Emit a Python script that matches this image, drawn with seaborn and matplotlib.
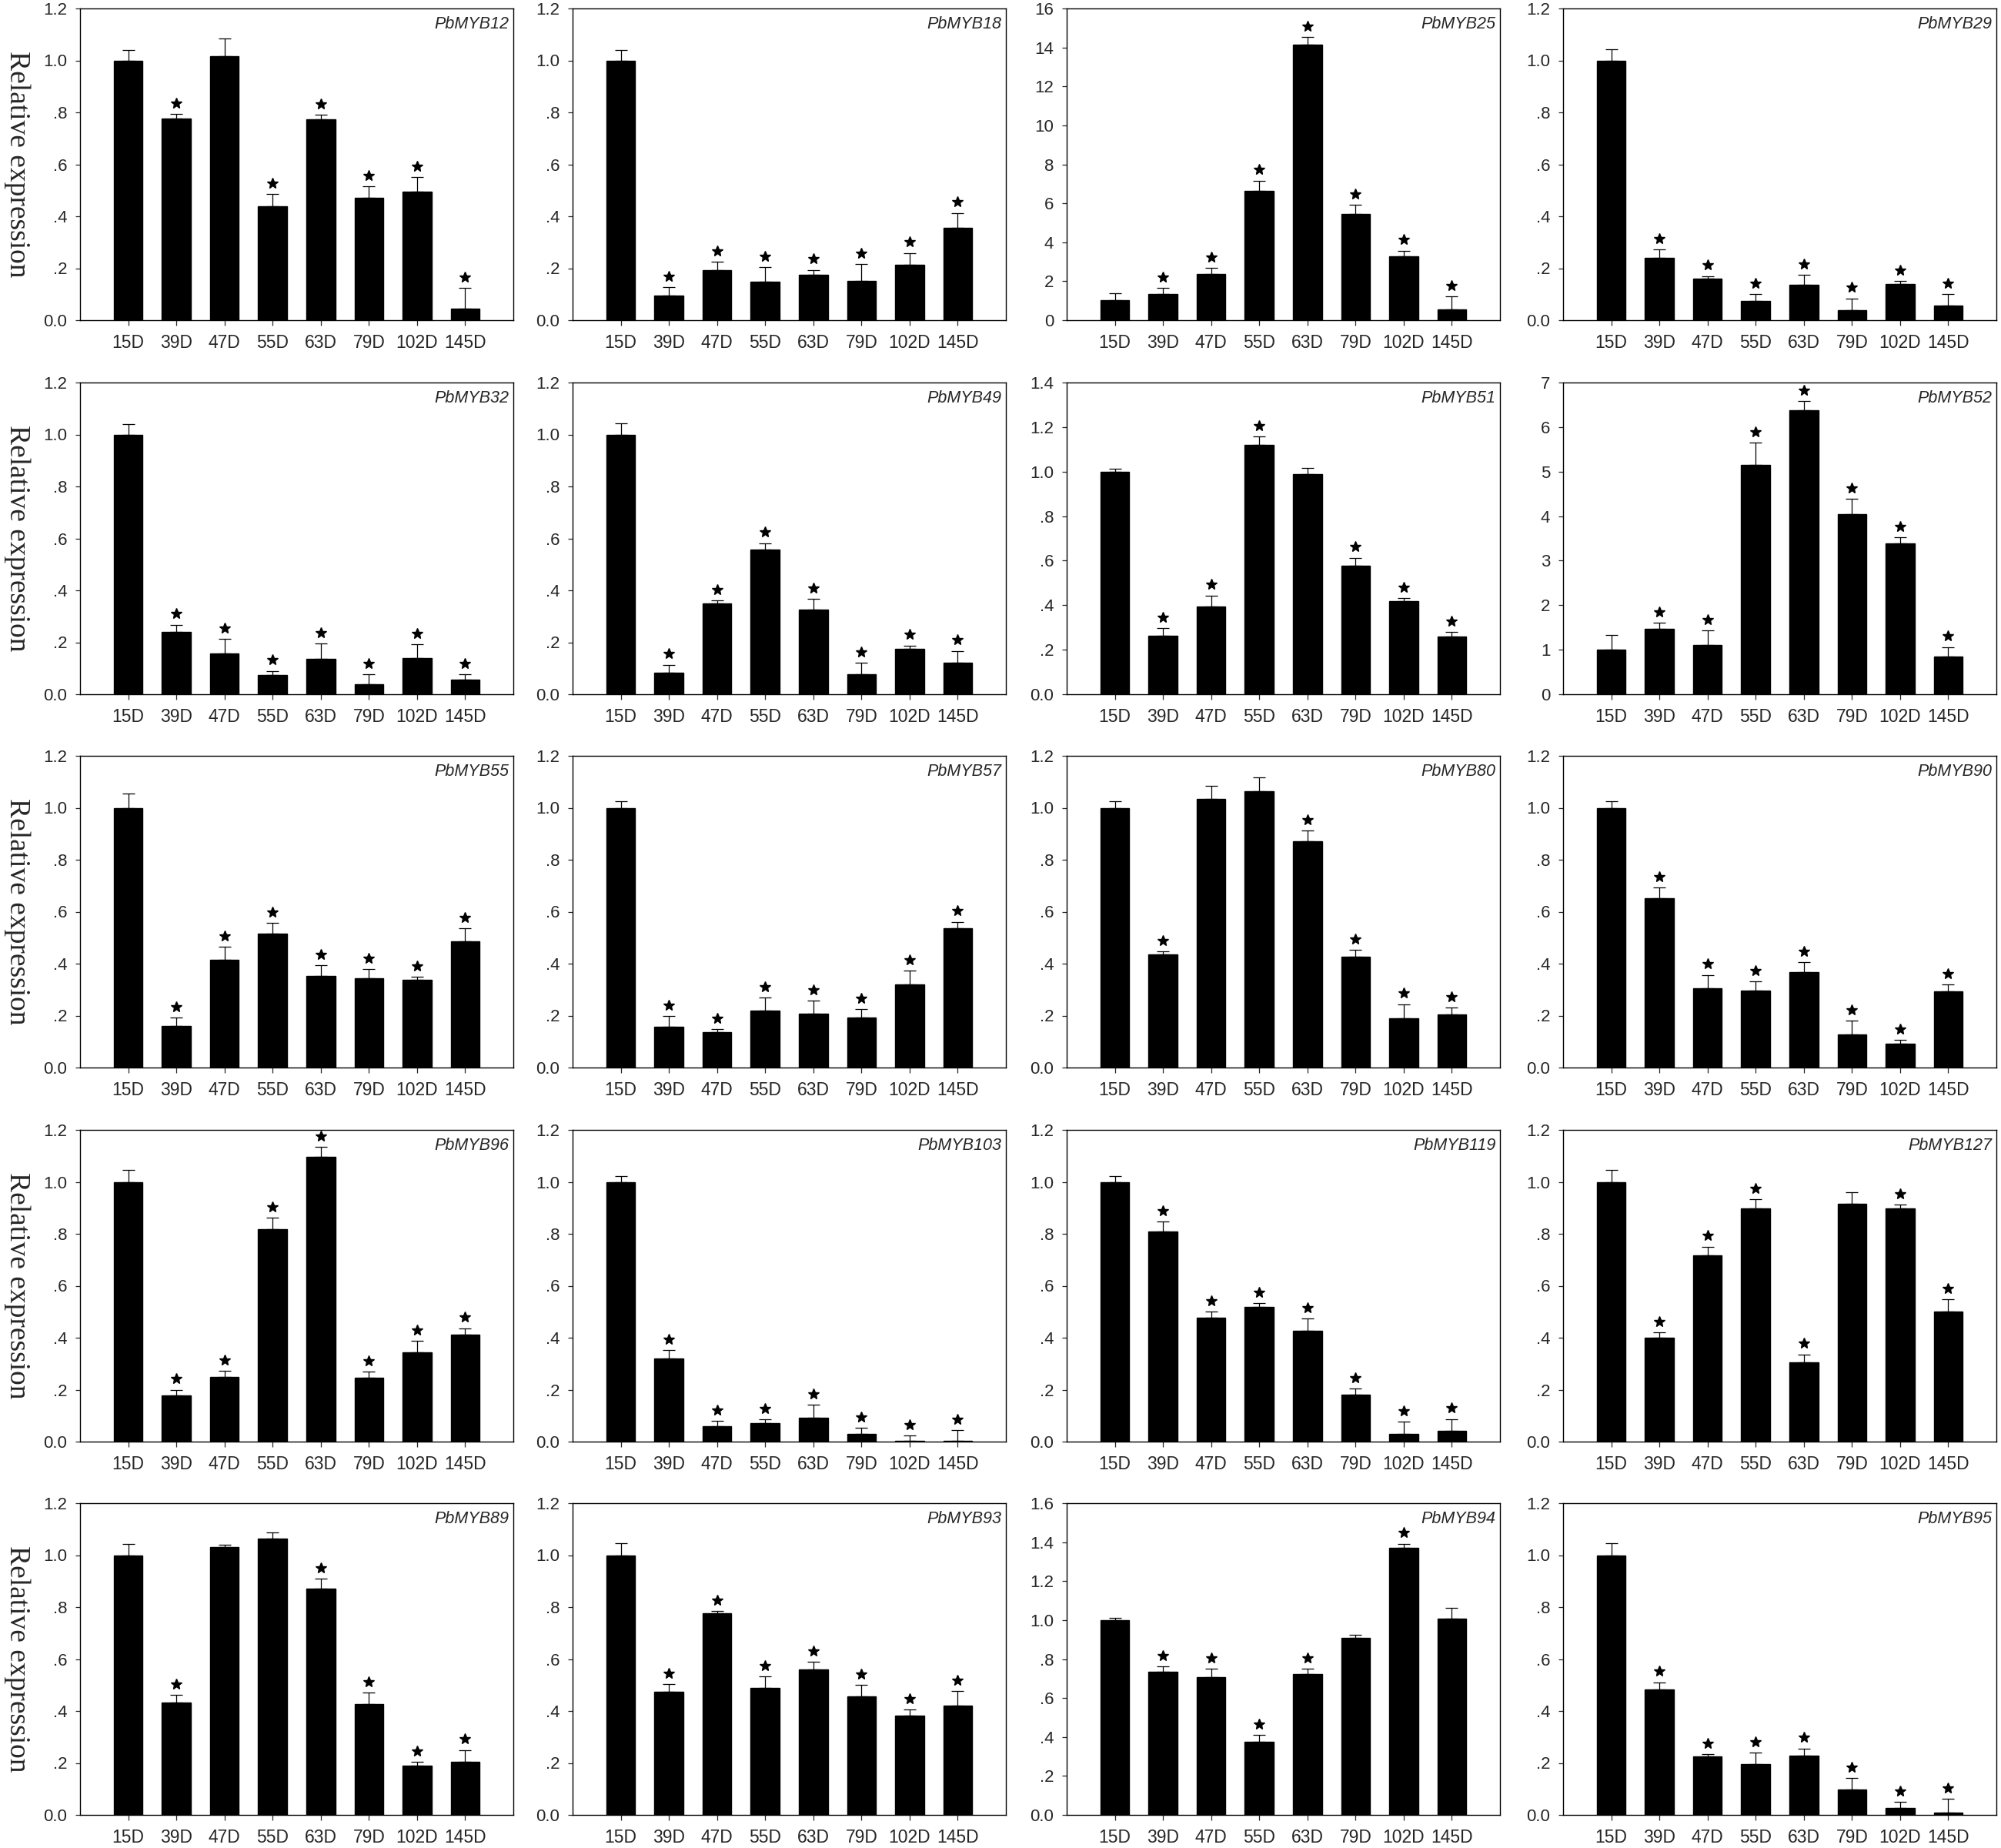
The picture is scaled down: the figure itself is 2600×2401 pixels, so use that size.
import numpy as np
import pandas as pd
import matplotlib
matplotlib.use("Agg")
import matplotlib.pyplot as plt
import seaborn as sns
from matplotlib.ticker import FuncFormatter

# ==============================
# Data
# ==============================
days = ['15D', '39D', '47D', '55D', '63D', '79D', '102D', '145D']

genes = ['PbMYB12', 'PbMYB18', 'PbMYB25', 'PbMYB29',
         'PbMYB32', 'PbMYB49', 'PbMYB51', 'PbMYB52',
         'PbMYB55', 'PbMYB57', 'PbMYB80', 'PbMYB90',
         'PbMYB96', 'PbMYB103', 'PbMYB119', 'PbMYB127',
         'PbMYB89', 'PbMYB93', 'PbMYB94', 'PbMYB95']

y_max = [1.2, 1.2, 16, 1.2,
         1.2, 1.2, 1.4, 7,
         1.2, 1.2, 1.2, 1.2,
         1.2, 1.2, 1.2, 1.2,
         1.2, 1.2, 1.6, 1.2]
y_step = [0.2, 0.2, 2, 0.2,
          0.2, 0.2, 0.2, 1,
          0.2, 0.2, 0.2, 0.2,
          0.2, 0.2, 0.2, 0.2,
          0.2, 0.2, 0.2, 0.2]

mean_12 = [1.00, 0.775, 1.015, 0.44, 0.772, 0.47, 0.495, 0.043]
err_12 = [0.04, 0.02, 0.07, 0.045, 0.02, 0.045, 0.055, 0.08]
sig_12 = [0, 1, 0, 1, 1, 1, 1, 1]

mean_18 = [1.00, 0.096, 0.194, 0.149, 0.176, 0.152, 0.214, 0.355]
err_18 = [0.04, 0.031, 0.031, 0.056, 0.018, 0.064, 0.045, 0.058]
sig_18 = [0, 1, 1, 1, 1, 1, 1, 1]

mean_25 = [1.01, 1.33, 2.39, 6.62, 14.13, 5.46, 3.26, 0.56]
err_25 = [0.39, 0.31, 0.29, 0.55, 0.41, 0.46, 0.31, 0.67]
sig_25 = [0, 1, 1, 1, 1, 1, 1, 1]

mean_29 = [1.00, 0.241, 0.159, 0.075, 0.137, 0.039, 0.139, 0.056]
err_29 = [0.042, 0.031, 0.011, 0.025, 0.038, 0.045, 0.012, 0.044]
sig_29 = [0, 1, 1, 1, 1, 1, 1, 1]

mean_32 = [1.00, 0.241, 0.158, 0.074, 0.136, 0.038, 0.138, 0.056]
err_32 = [0.04, 0.027, 0.054, 0.016, 0.06, 0.04, 0.054, 0.022]
sig_32 = [0, 1, 1, 1, 1, 1, 1, 1]

mean_49 = [1.00, 0.083, 0.351, 0.558, 0.326, 0.078, 0.174, 0.121]
err_49 = [0.042, 0.031, 0.011, 0.024, 0.04, 0.043, 0.014, 0.046]
sig_49 = [0, 1, 1, 1, 1, 1, 1, 1]

mean_51 = [1.00, 0.264, 0.395, 1.119, 0.988, 0.579, 0.419, 0.258]
err_51 = [0.013, 0.032, 0.049, 0.04, 0.029, 0.034, 0.012, 0.021]
sig_51 = [0, 1, 1, 1, 0, 1, 1, 1]

mean_52 = [1.00, 1.47, 1.10, 5.15, 6.37, 4.05, 3.38, 0.85]
err_52 = [0.33, 0.14, 0.34, 0.50, 0.22, 0.34, 0.14, 0.21]
sig_52 = [0, 1, 1, 1, 1, 1, 1, 1]

mean_55 = [1.00, 0.161, 0.415, 0.515, 0.354, 0.344, 0.337, 0.485]
err_55 = [0.054, 0.032, 0.05, 0.042, 0.04, 0.036, 0.013, 0.05]
sig_55 = [0, 1, 1, 1, 1, 1, 1, 1]

mean_57 = [1.00, 0.156, 0.135, 0.219, 0.207, 0.193, 0.32, 0.535]
err_57 = [0.026, 0.042, 0.013, 0.05, 0.05, 0.033, 0.052, 0.026]
sig_57 = [0, 1, 1, 1, 1, 1, 1, 1]

mean_80 = [1.00, 0.435, 1.033, 1.065, 0.872, 0.428, 0.191, 0.204]
err_80 = [0.024, 0.011, 0.052, 0.052, 0.041, 0.026, 0.053, 0.026]
sig_80 = [0, 1, 0, 0, 1, 1, 1, 1]

mean_90 = [1.00, 0.652, 0.304, 0.296, 0.367, 0.126, 0.093, 0.294]
err_90 = [0.026, 0.042, 0.053, 0.035, 0.039, 0.055, 0.013, 0.025]
sig_90 = [0, 1, 1, 1, 1, 1, 1, 1]

mean_96 = [1.00, 0.178, 0.25, 0.819, 1.096, 0.246, 0.343, 0.411]
err_96 = [0.046, 0.022, 0.022, 0.042, 0.039, 0.023, 0.044, 0.026]
sig_96 = [0, 1, 1, 1, 1, 1, 1, 1]

mean_103 = [1.00, 0.32, 0.059, 0.072, 0.093, 0.031, 0.003, 0.002]
err_103 = [0.022, 0.032, 0.021, 0.013, 0.05, 0.023, 0.021, 0.042]
sig_103 = [0, 1, 1, 1, 1, 1, 1, 1]

mean_119 = [1.00, 0.81, 0.478, 0.519, 0.426, 0.181, 0.03, 0.042]
err_119 = [0.023, 0.037, 0.022, 0.013, 0.048, 0.024, 0.046, 0.045]
sig_119 = [0, 1, 1, 1, 1, 1, 1, 1]

mean_127 = [1.00, 0.40, 0.718, 0.899, 0.306, 0.916, 0.899, 0.502]
err_127 = [0.046, 0.02, 0.033, 0.035, 0.03, 0.044, 0.013, 0.046]
sig_127 = [0, 1, 1, 1, 1, 0, 1, 1]

mean_89 = [1.00, 0.433, 1.031, 1.063, 0.872, 0.428, 0.19, 0.203]
err_89 = [0.042, 0.03, 0.01, 0.025, 0.038, 0.044, 0.015, 0.047]
sig_89 = [0, 1, 0, 0, 1, 1, 1, 1]

mean_93 = [1.00, 0.474, 0.776, 0.49, 0.561, 0.455, 0.383, 0.422]
err_93 = [0.046, 0.03, 0.009, 0.044, 0.029, 0.045, 0.022, 0.055]
sig_93 = [0, 1, 1, 1, 1, 1, 1, 1]

mean_94 = [1.00, 0.733, 0.709, 0.376, 0.721, 0.909, 1.37, 1.006]
err_94 = [0.013, 0.03, 0.041, 0.035, 0.029, 0.014, 0.022, 0.055]
sig_94 = [0, 1, 1, 1, 1, 0, 1, 0]

mean_95 = [1.00, 0.482, 0.224, 0.196, 0.227, 0.099, 0.027, 0.008]
err_95 = [0.046, 0.029, 0.01, 0.043, 0.029, 0.044, 0.022, 0.053]
sig_95 = [0, 1, 1, 1, 1, 1, 1, 1]

panels = [
    (mean_12, err_12, sig_12), (mean_18, err_18, sig_18),
    (mean_25, err_25, sig_25), (mean_29, err_29, sig_29),
    (mean_32, err_32, sig_32), (mean_49, err_49, sig_49),
    (mean_51, err_51, sig_51), (mean_52, err_52, sig_52),
    (mean_55, err_55, sig_55), (mean_57, err_57, sig_57),
    (mean_80, err_80, sig_80), (mean_90, err_90, sig_90),
    (mean_96, err_96, sig_96), (mean_103, err_103, sig_103),
    (mean_119, err_119, sig_119), (mean_127, err_127, sig_127),
    (mean_89, err_89, sig_89), (mean_93, err_93, sig_93),
    (mean_94, err_94, sig_94), (mean_95, err_95, sig_95),
]

# ==============================
# Style
# ==============================
sns.set_style("ticks")
plt.rcParams['font.family'] = ['Liberation Sans', 'DejaVu Sans']
plt.rcParams['axes.linewidth'] = 1.0


def dec_fmt(v, pos):
    if abs(v) < 1e-9:
        return '0.0'
    if v < 1:
        return ('%.1f' % v)[1:]
    return '%.1f' % v


def int_fmt(v, pos):
    return '%d' % round(v)


W, H = 2600, 2401
fig = plt.figure(figsize=(W / 100, H / 100), dpi=100)

lefts_px = [104, 744, 1386, 2031]
bottoms_px = [416, 902, 1387, 1873, 2358]
w_px, h_px = 563, 405

for k, gene in enumerate(genes):
    r, c = divmod(k, 4)
    ax = fig.add_axes([lefts_px[c] / W, 1 - bottoms_px[r] / H, w_px / W, h_px / H])
    mean, err, sig = panels[k]
    df = pd.DataFrame({'day': days, 'value': mean})

    sns.barplot(data=df, x='day', y='value', color='black', saturation=1,
                width=0.6, edgecolor='black', ax=ax)
    ax.errorbar(np.arange(len(days)), mean, yerr=[np.zeros(len(mean)), err],
                fmt='none', ecolor='black', elinewidth=0.9, capsize=6, capthick=0.9)

    ym = y_max[k]
    for i, s in enumerate(sig):
        if s:
            ax.plot(i, mean[i] + err[i] + 0.035 * ym, marker='*', ms=10,
                    color='black', linestyle='none')

    ax.set_xlim(-1, 8)
    ax.set_ylim(0, ym)
    ax.set_yticks(np.arange(0, ym + 1e-6, y_step[k]))
    ax.yaxis.set_major_formatter(FuncFormatter(int_fmt if y_step[k] >= 1 else dec_fmt))
    ax.set_xlabel('')
    ax.set_ylabel('')
    ax.tick_params(axis='y', direction='out', length=4, width=0.9, pad=8, labelsize=16)
    ax.tick_params(axis='x', direction='out', length=5, width=0.9, pad=8, labelsize=16.5)
    for sp in ax.spines.values():
        sp.set_visible(True)
        sp.set_linewidth(1.0)
        sp.set_color('black')

    ax.text(0.99, 0.975, gene, transform=ax.transAxes, ha='right', va='top',
            style='italic', fontsize=15.5)

    if c == 0:
        yc = 1 - (bottoms_px[r] - h_px / 2) / H
        fig.text(22 / W, yc, 'Relative expression', rotation=270,
                 ha='center', va='center', fontsize=27,
                 family=['Liberation Serif', 'DejaVu Serif'])

fig.savefig('out.png', dpi=100)
